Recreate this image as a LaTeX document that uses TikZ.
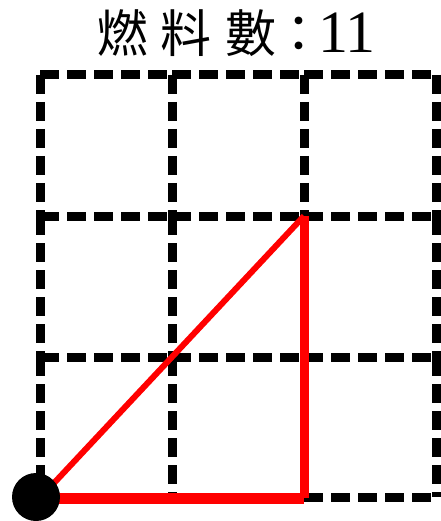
\documentclass[tikz,border=0pt]{standalone}
\usepackage{fontspec}
\setmainfont{Liberation Serif}
\newfontfamily\cjk{Noto Sans CJK TC}
\tikzset{
  gridline/.style={line width=9pt, dash pattern=on 19pt off 8pt, black},
  titletext/.style={inner sep=0pt, anchor=base west}
}
\begin{document}
\begin{tikzpicture}[x=1pt,y=-1pt]
\useasboundingbox (0,0) rectangle (440,521);
\fill[white] (0,0) rectangle (440,521);
\node[titletext] (title) at (97,53) {{\cjk\fontsize{51pt}{54pt}\selectfont 燃\kern12pt料\kern14pt數\kern-3pt：}\kern-6pt{\fontsize{60pt}{64pt}\selectfont 11}};
% grid
\foreach \i/\x in {0/40,1/172,2/304,3/436}{
  \foreach \j/\ya/\yb in {0/75/216,1/216/357,2/357/497}{
    \draw[gridline] (\x,\ya) -- (\x,\yb);
  }
}
\foreach \y in {75,216,357,497}{
  \foreach \xa/\xb in {40/172,172/304,304/436}{
    \draw[gridline] (\xa,\y) -- (\xb,\y);
  }
}
\coordinate (A) at (40,498);
\coordinate (B) at (304,216);
\coordinate (C) at (304,498);
\draw[red, line width=6pt] (A) -- (B);
\draw[red, line width=9pt] (B) -- (C);
\draw[red, line width=11pt] (A) -- (C);
\node[circle, fill=black, minimum size=48pt, inner sep=0pt] (dot) at (36,497) {};
\end{tikzpicture}
\end{document}
